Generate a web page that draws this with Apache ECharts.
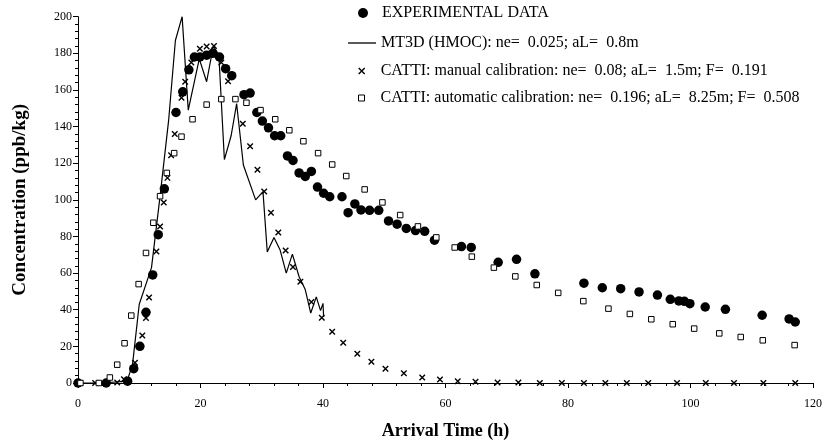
<!DOCTYPE html>
<html>
<head>
<meta charset="utf-8">
<script src="https://cdn.jsdelivr.net/npm/echarts@6/dist/echarts.min.js"></script>
<style>html,body{margin:0;padding:0;background:#fff}#c{width:825px;height:445px}</style>
</head>
<body>
<div id="c"></div>
<script>
// Experimental data
var expX = [0, 4.6, 8.1, 9.1, 10.1, 11.1, 12.2, 13.1, 14.1, 16.0, 17.1, 18.1, 19.0, 19.9, 21.0, 22.0, 23.1, 24.1, 25.1, 27.1, 28.1, 29.2, 30.1, 31.1, 32.1, 33.1, 34.2, 35.1, 36.1, 37.1, 38.1, 39.1, 40.1, 41.1, 43.1, 44.1, 45.2, 46.2, 47.6, 49.1, 50.7, 52.1, 53.6, 55.1, 56.6, 58.2, 62.6, 64.2, 68.6, 71.6, 74.6, 82.6, 85.6, 88.6, 91.6, 94.6, 96.7, 98.1, 99.0, 99.9, 102.4, 105.7, 111.7, 116.1, 117.1];
var expY = [0, 0, 1, 7.8, 20, 38.6, 59, 81, 106, 147.7, 159, 171, 178, 178, 179, 180, 178, 171.6, 167.8, 157.4, 158.3, 147.7, 143, 139.3, 135, 135, 124, 121.5, 114.7, 112.8, 115.5, 107, 103.6, 101.7, 101.7, 93, 97.8, 94.5, 94.3, 94.3, 88.5, 86.7, 84.4, 83.2, 82.8, 78, 74.5, 74, 65.9, 67.5, 59.6, 54.5, 52, 51.5, 49.7, 48, 45.7, 44.8, 44.6, 43.3, 41.5, 40.2, 37, 35, 33.3];
// MT3D (HMOC)
var mt3dX = [0, 4, 8.0, 8.9, 10.0, 12.0, 13.4, 14.8, 15.9, 17.0, 18.0, 19.8, 21.0, 22.1, 23.0, 23.9, 25.0, 25.9, 27.0, 29.0, 30.2, 30.9, 32.0, 33.0, 34.0, 35.0, 36.1, 37.1, 38.0, 38.9, 39.6, 40.0, 40.1];
var mt3dY = [0, 0, 1, 10, 43, 63, 102, 143.5, 187, 200, 149, 177, 164.5, 184, 179, 122, 135, 152.5, 119, 100, 104.5, 71.5, 79.5, 72.6, 60, 70.4, 58, 51, 38.2, 47, 39.5, 43.5, 36];
// CATTI manual calibration
var manX = [0.3, 2.8, 6.4, 7.5, 9.3, 10.5, 11.1, 11.6, 12.8, 13.4, 14.0, 14.6, 15.2, 15.8, 16.9, 17.5, 18.5, 19.9, 21.0, 22.2, 23.4, 24.5, 26.9, 28.1, 29.3, 30.4, 31.5, 32.7, 33.9, 35.1, 36.3, 38.1, 39.8, 41.5, 43.3, 45.6, 47.9, 50.2, 53.2, 56.2, 59.1, 62.0, 64.9, 68.5, 71.9, 75.4, 79.0, 82.6, 86.1, 89.6, 93.1, 97.8, 102.5, 107.1, 111.9, 117.1];
var manY = [0, 0, 0.3, 2, 11, 26, 35.5, 46.7, 71.8, 85.5, 98.5, 112, 124.4, 136, 155.7, 164.5, 175, 182.5, 183.7, 184, 175, 164.8, 141.6, 129.3, 116.5, 104.5, 93, 82.2, 72.4, 63.3, 55.3, 44.2, 35.6, 28, 22, 16, 11.6, 7.8, 5.3, 3, 1.9, 1, 0.7, 0.3, 0.3, 0, 0, 0, 0, 0, 0, 0, 0, 0, 0, 0];
// CATTI automatic calibration
var autoX = [0.4, 3.4, 5.2, 6.4, 7.6, 8.7, 9.9, 11.1, 12.3, 13.4, 14.5, 15.7, 16.9, 18.7, 21.0, 23.4, 25.7, 27.5, 29.8, 32.2, 34.5, 36.8, 39.2, 41.5, 43.8, 46.8, 49.7, 52.6, 55.5, 58.5, 61.5, 64.3, 67.9, 71.4, 74.9, 78.4, 82.5, 86.6, 90.1, 93.6, 97.1, 100.6, 104.7, 108.2, 111.8, 117.0];
var autoY = [0, 0, 3, 10, 21.7, 36.8, 54, 71, 87.5, 102, 114.7, 125.5, 134.5, 144, 152, 155, 155, 153, 149, 144, 138, 132, 125.5, 119.3, 113, 105.7, 98.6, 91.7, 85.5, 79.5, 74, 69, 63, 58.2, 53.5, 49.2, 44.7, 40.6, 37.7, 34.8, 32.1, 29.7, 27.1, 25.1, 23.3, 20.7];

var xTicks = [0, 20, 40, 60, 80, 100, 120];
var yTicks = [0, 20, 40, 60, 80, 100, 120, 140, 160, 180, 200];

var names = [
  'EXPERIMENTAL DATA',
  'MT3D (HMOC): ne=  0.025; aL=  0.8m',
  'CATTI: manual calibration: ne=  0.08; aL=  1.5m; F=  0.191',
  'CATTI: automatic calibration: ne=  0.196; aL=  8.25m; F=  0.508'
];

function pairs(xs, ys) { return xs.map(function (x, i) { return [x, ys[i]]; }); }

var FONT = 'Liberation Serif';
var crossPath = 'path://M0,0L10,10M10,0L0,10';
var squarePath = 'path://M0,0L10,0L10,10L0,10Z';

function legendFor(item, left, top, h) {
  return {
    show: true, selectedMode: false, orient: 'vertical',
    left: left, top: top, itemWidth: 28, itemHeight: h, itemGap: 0, padding: 0,
    symbolKeepAspect: true,
    data: [item],
    textStyle: { fontFamily: FONT, fontSize: 16, color: '#000' }
  };
}

var chart = echarts.init(document.getElementById('c'), null, { renderer: 'canvas' });
chart.setOption({
  animation: false,
  backgroundColor: '#fff',
  grid: { left: 78, right: 11.5, top: 16.7, bottom: 61.7, containLabel: false },
  legend: [
    legendFor({ name: names[0], icon: 'circle', itemStyle: { color: '#000', opacity: 1 } }, 358, 5, 10),
    legendFor({ name: names[1], icon: 'rect', itemStyle: { color: '#000', borderWidth: 0 } }, 348, 35, 1.3),
    legendFor({ name: names[2], icon: crossPath, itemStyle: { color: 'rgba(0,0,0,0)', borderColor: '#000', borderWidth: 1.4 } }, 358, 63, 6),
    legendFor({ name: names[3], icon: squarePath, itemStyle: { color: '#fff', borderColor: '#000', borderWidth: 1 } }, 358, 90, 6)
  ],
  xAxis: {
    type: 'value', min: 0, max: 120, interval: 20,
    name: 'Arrival Time (h)', nameLocation: 'middle', nameGap: 39,
    nameTextStyle: { fontFamily: FONT, fontSize: 18, fontWeight: 'bold', color: '#000' },
    axisLine: { show: true, lineStyle: { color: '#000', width: 1 } },
    axisTick: { show: true, length: 5, lineStyle: { color: '#000' } },
    minorTick: { show: true, splitNumber: 5, length: 3, lineStyle: { color: '#000' } },
    splitLine: { show: false },
    axisLabel: { fontFamily: FONT, fontSize: 12, color: '#000', margin: 15,
      formatter: function (v) { return xTicks.indexOf(v) >= 0 ? String(v) : ''; } }
  },
  yAxis: {
    type: 'value', min: 0, max: 200, interval: 20,
    name: 'Concentration (ppb/kg)', nameLocation: 'middle', nameGap: 48, nameRotate: 90,
    nameTextStyle: { fontFamily: FONT, fontSize: 19, fontWeight: 'bold', color: '#000' },
    axisLine: { show: true, lineStyle: { color: '#000', width: 1 } },
    axisTick: { show: true, length: 5, lineStyle: { color: '#000' } },
    minorTick: { show: true, splitNumber: 5, length: 3, lineStyle: { color: '#000' } },
    splitLine: { show: false },
    axisLabel: { fontFamily: FONT, fontSize: 12, color: '#000', margin: 6,
      formatter: function (v) { return yTicks.indexOf(v) >= 0 ? String(v) : ''; } }
  },
  series: [
    {
      name: names[0], type: 'scatter', data: pairs(expX, expY),
      symbol: 'circle', symbolSize: 9.5, itemStyle: { color: '#000', opacity: 1 }, z: 3
    },
    {
      name: names[1], type: 'line', data: pairs(mt3dX, mt3dY),
      symbol: 'none', showSymbol: false, lineStyle: { color: '#000', width: 1.2 },
      itemStyle: { color: '#000' }, z: 4
    },
    {
      name: names[2], type: 'scatter', data: pairs(manX, manY),
      symbol: crossPath, symbolSize: 5.5,
      itemStyle: { color: 'rgba(0,0,0,0)', borderColor: '#000', borderWidth: 1.4, opacity: 1 }, z: 5
    },
    {
      name: names[3], type: 'scatter', data: pairs(autoX, autoY),
      symbol: 'rect', symbolSize: 5.5,
      itemStyle: { color: '#fff', borderColor: '#000', borderWidth: 1, opacity: 1 }, z: 5
    }
  ]
});
</script>
</body>
</html>
